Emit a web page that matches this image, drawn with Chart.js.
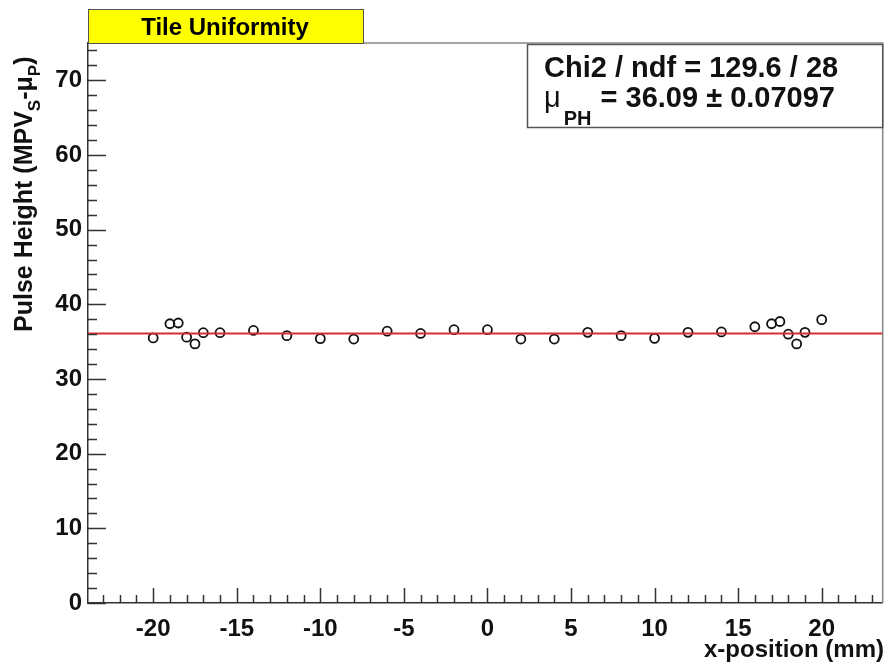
<!DOCTYPE html>
<html>
<head>
<meta charset="utf-8">
<title>Tile Uniformity</title>
<script src="https://cdn.jsdelivr.net/npm/chart.js@4/dist/chart.umd.min.js"></script>
<style>
  html, body { margin: 0; padding: 0; background: #fff; }
  #chart { display: block; }
</style>
</head>
<body>
<canvas id="chart" width="889" height="667"></canvas>
<script>
// Tile uniformity scan - pulse height vs x-position
const xPosition = [-20, -19, -18.5, -18, -17.5, -17, -16, -14, -12, -10, -8, -6, -4, -2, 0,
    2, 4, 6, 8, 10, 12, 14, 16, 17, 17.5, 18, 18.5, 19, 20];
const pulseHeight = [35.5, 37.4, 37.5, 35.6, 34.7, 36.2, 36.2, 36.5, 35.8, 35.4, 35.35, 36.4, 36.1, 36.6, 36.6,
    35.35, 35.35, 36.25, 35.8, 35.45, 36.25, 36.3, 37.0, 37.4, 37.7, 36.0, 34.7, 36.25, 37.95];
const fitMean = 36.09;
const fitError = '0.07097';
const chi2Text = 'Chi2 / ndf = 129.6 / 28';
const xRange = [-23.9, 23.65];
const yRange = [0, 75];
const xTicks = [-20, -15, -10, -5, 0, 5, 10, 15, 20];
const yTicks = [0, 10, 20, 30, 40, 50, 60, 70];

const FONT = '"Liberation Sans", Arial, Helvetica, sans-serif';

// ticks, frame, title and stats boxes (ROOT style)
const rootDecor = {
    id: 'rootDecor',
    afterDraw(chart) {
        const ctx = chart.ctx;
        const a = chart.chartArea;
        const xs = chart.scales.x, ys = chart.scales.y;
        ctx.save();

        // frame top/right
        ctx.strokeStyle = '#888';
        ctx.lineWidth = 1.5;
        ctx.beginPath();
        ctx.moveTo(a.left, a.top);
        ctx.lineTo(a.right, a.top);
        ctx.lineTo(a.right, a.bottom);
        ctx.stroke();

        // inward ticks
        ctx.strokeStyle = '#333';
        ctx.lineWidth = 1.5;
        ctx.beginPath();
        for (let v = Math.ceil(xRange[0]); v <= xRange[1]; v++) {
            const px = Math.round(xs.getPixelForValue(v)) + 0.5;
            const len = v % 5 === 0 ? 15 : 8;
            ctx.moveTo(px, a.bottom);
            ctx.lineTo(px, a.bottom - len);
        }
        for (let v = yRange[0]; v <= yRange[1]; v += 2) {
            const py = Math.round(ys.getPixelForValue(v)) + 0.5;
            const len = v % 10 === 0 ? 18 : 9;
            ctx.moveTo(a.left, py);
            ctx.lineTo(a.left + len, py);
        }
        ctx.stroke();

        // title box
        ctx.fillStyle = '#ffff00';
        ctx.fillRect(88, 9, 275, 34);
        ctx.strokeStyle = '#555';
        ctx.lineWidth = 1;
        ctx.strokeRect(88.5, 9.5, 275, 34);
        ctx.fillStyle = '#000';
        ctx.font = 'bold 24px ' + FONT;
        ctx.textAlign = 'center';
        ctx.textBaseline = 'alphabetic';
        ctx.fillText('Tile Uniformity', 225, 35);

        // stats box
        ctx.fillStyle = '#fff';
        ctx.fillRect(527, 44, a.right - 527, 83);
        ctx.strokeStyle = '#555';
        ctx.lineWidth = 1.5;
        ctx.strokeRect(527.5, 44.5, a.right - 527.5, 83);
        ctx.fillStyle = '#111';
        ctx.textAlign = 'left';
        ctx.font = 'bold 29px ' + FONT;
        ctx.fillText(chi2Text, 544, 77);
        let cx = 544;
        ctx.font = '29px ' + FONT;
        ctx.fillText('\u03bc', cx, 107);
        cx += ctx.measureText('\u03bc').width + 3;
        ctx.font = 'bold 20px ' + FONT;
        ctx.fillText('PH', cx, 125);
        cx += ctx.measureText('PH').width + 1;
        ctx.font = 'bold 29px ' + FONT;
        const rest = ' = ' + fitMean.toFixed(2) + ' \u00b1 ' + fitError;
        ctx.fillText(rest, cx, 107);

        // x axis title
        ctx.font = 'bold 24px ' + FONT;
        ctx.textAlign = 'right';
        ctx.fillText('x-position (mm)', 884, 657);

        // y axis title with subscripts, rotated
        ctx.translate(32, 332);
        ctx.rotate(-Math.PI / 2);
        ctx.textAlign = 'left';
        const parts = [
            ['Pulse Height (MPV', 0, 25],
            ['S', 8, 17],
            ['-\u03bc', 0, 25],
            ['P', 8, 17],
            [')', 0, 25]
        ];
        let tx = 0;
        parts.forEach(p => {
            ctx.font = 'bold ' + p[2] + 'px ' + FONT;
            ctx.fillText(p[0], tx, p[1]);
            tx += ctx.measureText(p[0]).width;
        });

        ctx.restore();
    }
};

new Chart(document.getElementById('chart'), {
    type: 'scatter',
    data: {
        datasets: [{
            label: 'Pulse Height',
            data: xPosition.map((x, i) => ({ x: x, y: pulseHeight[i] })),
            pointStyle: 'circle',
            pointRadius: 4.5,
            pointBorderWidth: 1.8,
            pointBorderColor: '#111',
            pointBackgroundColor: 'rgba(0,0,0,0)',
            showLine: false,
            order: 2
        }, {
            type: 'line',
            label: 'Fit',
            data: xRange.map(x => ({ x: x, y: fitMean })),
            borderColor: '#d62f2f',
            borderWidth: 2,
            pointRadius: 0,
            fill: false,
            order: 1
        }]
    },
    options: {
        responsive: false,
        animation: false,
        layout: { padding: { top: 43, right: 5, left: 0, bottom: 0 } },
        plugins: { legend: { display: false }, tooltip: { enabled: false } },
        scales: {
            x: {
                type: 'linear',
                min: xRange[0],
                max: xRange[1],
                afterBuildTicks: s => { s.ticks = xTicks.map(v => ({ value: v })); },
                afterFit: s => { s.height = 64; },
                grid: { display: false, drawTicks: false },
                border: { display: true, color: '#333', width: 1.5 },
                ticks: {
                    color: '#111',
                    font: { family: FONT, size: 24, weight: 'bold' },
                    padding: 12,
                    maxRotation: 0,
                    autoSkip: false
                }
            },
            y: {
                type: 'linear',
                min: yRange[0],
                max: yRange[1],
                afterBuildTicks: s => { s.ticks = yTicks.map(v => ({ value: v })); },
                afterFit: s => { s.width = 88; },
                grid: { display: false, drawTicks: false },
                border: { display: true, color: '#333', width: 1.5 },
                ticks: {
                    color: '#111',
                    font: { family: FONT, size: 24, weight: 'bold' },
                    padding: 6,
                    autoSkip: false
                }
            }
        }
    },
    plugins: [rootDecor]
});
</script>
</body>
</html>
